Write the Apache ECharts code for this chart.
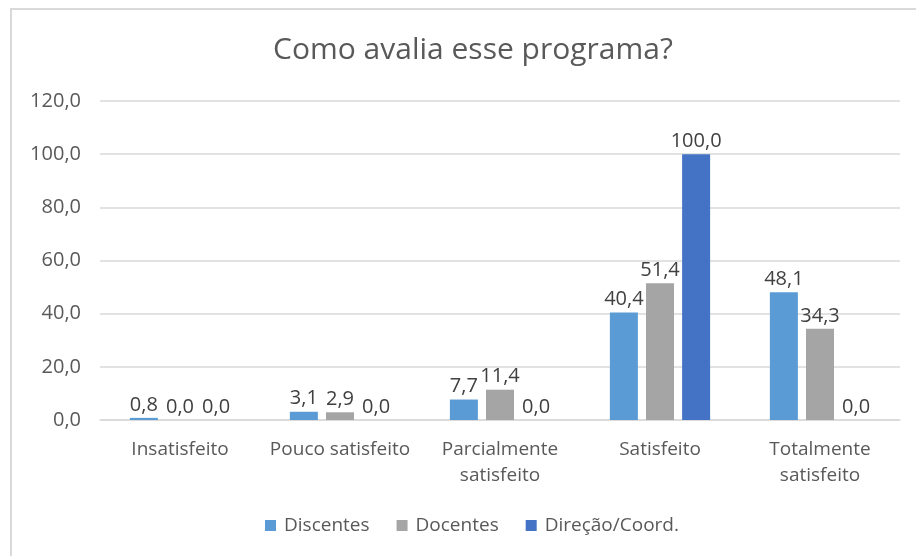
<!DOCTYPE html>
<html>
<head>
<meta charset="utf-8">
<script src="https://cdn.jsdelivr.net/npm/echarts@6/dist/echarts.min.js"></script>
<style>
  html, body { margin: 0; padding: 0; background: #fff; overflow: hidden; }
  #frame { position: absolute; left: 10px; top: 8px; width: 1000px; height: 1000px; border: 2px solid #d9d9d9; }
  #chart { position: absolute; left: 0; top: 0; width: 916px; height: 556px; }
</style>
</head>
<body>
<div id="frame"></div>
<div id="chart"></div>
<script>
const categories = ['Insatisfeito', 'Pouco satisfeito', 'Parcialmente\nsatisfeito', 'Satisfeito', 'Totalmente\nsatisfeito']
const discentes = [0.8, 3.1, 7.7, 40.4, 48.1]
const docentes = [0.0, 2.9, 11.4, 51.4, 34.3]
const direcao = [0.0, 0.0, 0.0, 100.0, 0.0]

const fmt = v => Number(v).toFixed(1).replace('.', ',')
const font = '"Open Sans", "Noto Sans", sans-serif'

const labelStyle = {
  show: true,
  position: 'top',
  distance: 3,
  color: '#404040',
  fontSize: 20,
  fontFamily: font,
  formatter: p => fmt(p.value)
}

const chart = echarts.init(document.getElementById('chart'))
const option = {
  animation: false,
  title: {
    text: 'Como avalia esse programa?',
    left: 268,
    top: 30,
    textStyle: { color: '#595959', fontSize: 30, fontWeight: 'normal', fontFamily: font }
  },
  legend: {
    bottom: 16,
    left: 260,
    itemWidth: 11,
    itemHeight: 11,
    itemGap: 27,
    icon: 'rect',
    textStyle: { color: '#595959', fontSize: 19, fontFamily: font, padding: [0, 0, 0, 3] },
    data: ['Discentes', 'Docentes', 'Direção/Coord.']
  },
  grid: { left: 100, right: 16, top: 101, bottom: 136 },
  xAxis: {
    type: 'category',
    data: categories,
    axisLine: { lineStyle: { color: '#d9d9d9', width: 1.5 } },
    axisTick: { show: false },
    axisLabel: { color: '#595959', fontSize: 19, fontFamily: font, margin: 17, lineHeight: 26, interval: 0 }
  },
  yAxis: {
    type: 'value',
    min: 0,
    max: 120,
    interval: 20,
    axisLine: { show: false },
    axisTick: { show: false },
    splitLine: { lineStyle: { color: '#d9d9d9', width: 1.5 } },
    axisLabel: { color: '#595959', fontSize: 20, fontFamily: font, margin: 19, formatter: v => fmt(v) }
  },
  series: [
    { name: 'Discentes', type: 'bar', data: discentes, barWidth: 28, barGap: '29%', itemStyle: { color: '#5b9bd5' }, label: labelStyle },
    { name: 'Docentes', type: 'bar', data: docentes, barWidth: 28, barGap: '29%', itemStyle: { color: '#a5a5a5' }, label: labelStyle },
    { name: 'Direção/Coord.', type: 'bar', data: direcao, barWidth: 28, barGap: '29%', itemStyle: { color: '#4472c4' }, label: labelStyle }
  ]
}
chart.setOption(option)
</script>
</body>
</html>
